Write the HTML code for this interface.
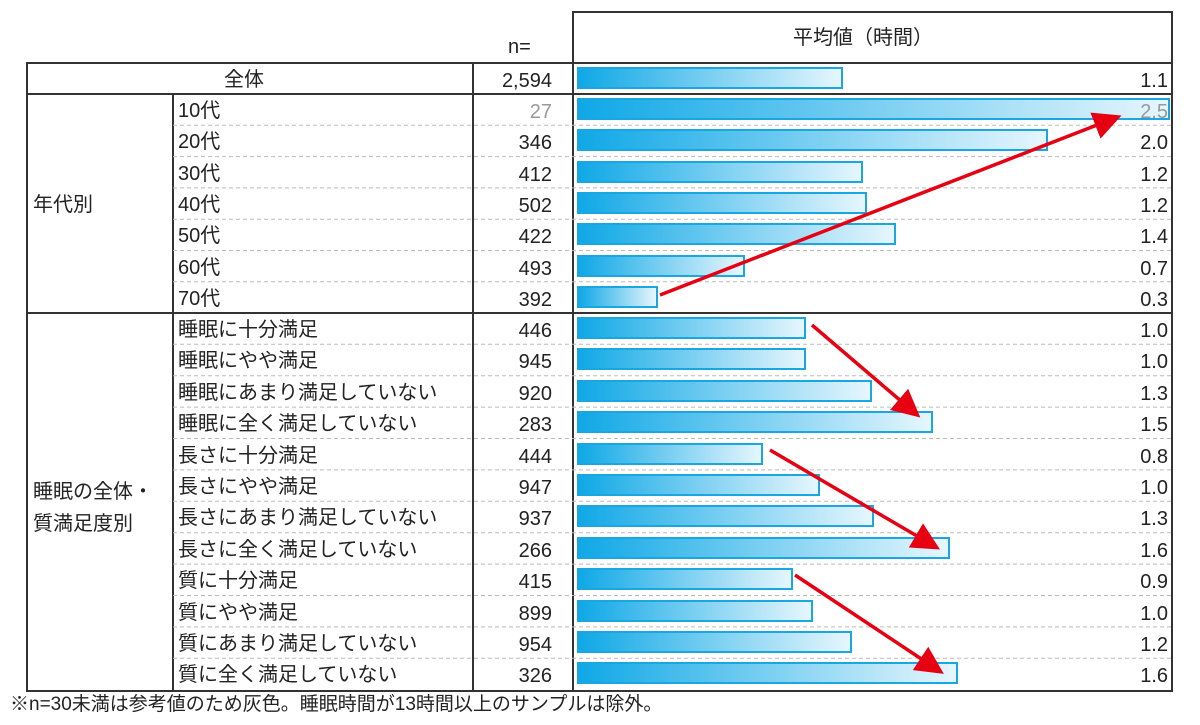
<!DOCTYPE html><html><head><meta charset="utf-8"><style>
body{margin:0;width:1200px;height:725px;background:#fff;font-family:"Liberation Sans","Noto Sans CJK JP",sans-serif;color:#222;position:relative;overflow:hidden}
.t{position:absolute;font-size:20px;line-height:22px;white-space:nowrap}
.bar{position:absolute;left:577px;height:22px;border:2px solid #1aa6e0;box-sizing:border-box;background:linear-gradient(to right,#0fa8e6,#e6f6fd)}
</style></head><body>
<svg width="1200" height="725" style="position:absolute;left:0;top:0">
<g stroke="#333" stroke-width="2" fill="none">
<rect x="573" y="12" width="599" height="679"/>
<line x1="573" y1="63" x2="1172" y2="63"/>
<rect x="27" y="63" width="546" height="628"/>
<line x1="27" y1="94" x2="1172" y2="94"/>
<line x1="27" y1="313" x2="1172" y2="313"/>
<line x1="173" y1="94" x2="173" y2="691"/>
<line x1="473" y1="63" x2="473" y2="691"/>
</g>
<g id="d" stroke="#bbb" stroke-width="1" stroke-dasharray="4,3"></g>
</svg>
<div id="c"></div>
<div class="t" style="left:508px;top:36px">n=</div>
<div class="t" style="left:793px;top:27px">平均値（時間）</div>
<div class="t" style="left:224px;top:69px">全体</div>
<div class="t" style="right:648px;top:70px">2,594</div>
<div class="t" style="left:33px;top:194px">年代別</div>
<div class="t" style="left:33px;top:476px;line-height:32px">睡眠の全体・<br>質満足度別</div>
<div class="t" style="left:10px;top:694px;font-size:19px">※n=30未満は参考値のため灰色。睡眠時間が13時間以上のサンプルは除外。</div>
<svg width="1200" height="725" style="position:absolute;left:0;top:0;z-index:5">
<defs><marker id="a" markerWidth="8" markerHeight="8" refX="6" refY="4" orient="auto" markerUnits="strokeWidth"><path d="M0,0 L8,4 L0,8z" fill="#e60012"/></marker></defs>
<g stroke="#e60012" stroke-width="3.5" marker-end="url(#a)">
<line x1="660" y1="295" x2="1115" y2="118"/>
<line x1="812" y1="325" x2="915" y2="413"/>
<line x1="770" y1="450" x2="934" y2="546"/>
<line x1="795" y1="575" x2="938" y2="670"/>
</g></svg>
<script>
var rows=[["10代","27","2.5",1170],["20代","346","2.0",1048],["30代","412","1.2",863],["40代","502","1.2",867],["50代","422","1.4",896],["60代","493","0.7",745],["70代","392","0.3",658],
["睡眠に十分満足","446","1.0",806],["睡眠にやや満足","945","1.0",806],["睡眠にあまり満足していない","920","1.3",872],["睡眠に全く満足していない","283","1.5",933],
["長さに十分満足","444","0.8",763],["長さにやや満足","947","1.0",820],["長さにあまり満足していない","937","1.3",874],["長さに全く満足していない","266","1.6",950],
["質に十分満足","415","0.9",793],["質にやや満足","899","1.0",813],["質にあまり満足していない","954","1.2",852],["質に全く満足していない","326","1.6",958]];
var h='';
h+='<div class="bar" style="top:67px;width:'+(843-577)+'px"></div><div class="t" style="right:32px;top:70px">1.1</div>';
var d='';
rows.forEach(function(r,i){var y=i<7?94+i*31.3:313+(i-7)*31.4;
var g=i==0?'color:#999;':'';
h+='<div class="t" style="left:178px;top:'+(y+6)+'px">'+r[0]+'</div>';
h+='<div class="t" style="right:648px;top:'+(y+7)+'px;'+g+'">'+r[1]+'</div>';
h+='<div class="bar" style="top:'+(y+4)+'px;width:'+(r[3]-577)+'px"></div>';
h+='<div class="t" style="right:32px;top:'+(y+7)+'px;z-index:3;'+g+'">'+r[2]+'</div>';
if(i!=6&&i!=18)d+='<line x1="173" x2="1172" y1="'+(y+31.3)+'" y2="'+(y+31.3)+'"/>';});
document.getElementById('c').innerHTML=h;document.getElementById('d').innerHTML=d;
</script>
</body></html>
